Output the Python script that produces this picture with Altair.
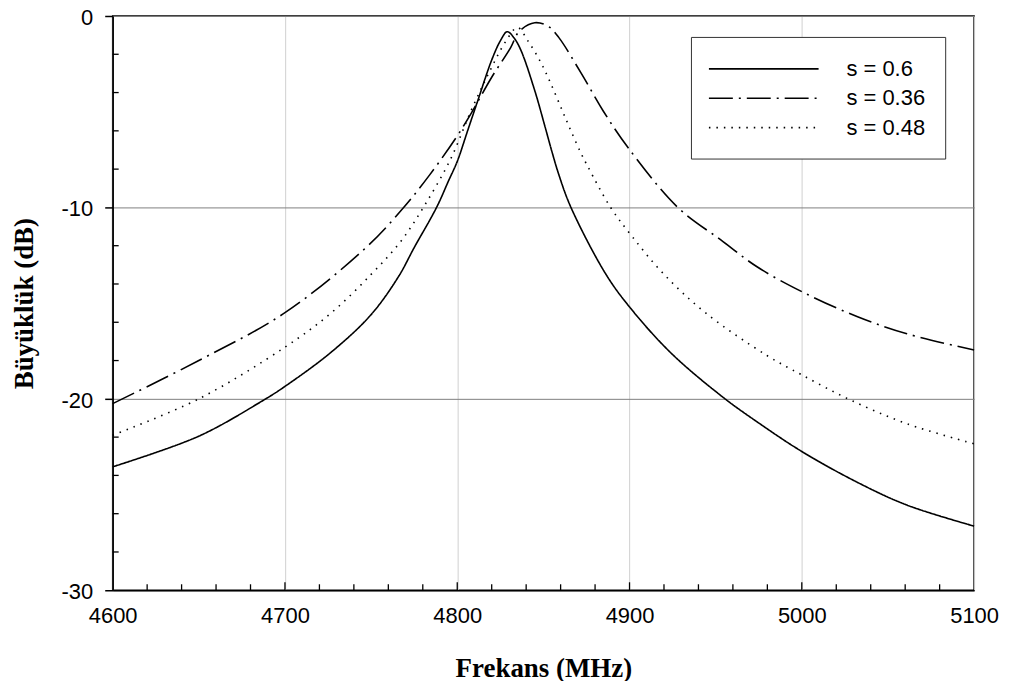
import altair as alt
import pandas as pd

# ---- data ----
series_names = ["s = 0.6", "s = 0.36", "s = 0.48"]

f_06 = [4600, 4650, 4687, 4700, 4727, 4750, 4766, 4775, 4788, 4795, 4800,
        4806, 4812, 4820, 4825, 4829, 4833, 4837, 4845, 4851, 4855, 4859, 4866,
        4886, 4900, 4924, 4954, 4974, 5000, 5032, 5061, 5100]
db_06 = [-23.55, -21.95, -20.1, -19.35, -17.55, -15.6, -13.6, -12.1, -10.0, -8.6, -7.6,
         -6.0, -4.4, -2.3, -1.3, -0.82, -1.15, -1.8, -3.9, -5.8, -7.1, -8.3, -10.0,
         -13.45, -15.2, -17.6, -19.9, -21.2, -22.75, -24.35, -25.55, -26.65]

f_036 = [4600, 4650, 4700, 4747, 4768, 4784, 4799, 4808, 4820, 4831, 4836, 4845,
         4853, 4859, 4872, 4885, 4899, 4928, 4953, 4974, 5000, 5032, 5061, 5100]
db_036 = [-20.25, -18.0, -15.5, -12.1, -10.1, -8.3, -6.4, -5.1, -3.2, -1.65, -0.8, -0.35,
          -0.55, -1.13, -3.0, -5.0, -6.86, -10.0, -11.7, -13.1, -14.4, -15.7, -16.6, -17.45]

f_048 = [4600, 4650, 4700, 4727, 4750, 4767, 4781, 4796, 4808, 4818, 4828, 4835,
         4841, 4848, 4854, 4861, 4866, 4872, 4876, 4889, 4901, 4919, 4944, 4980,
         5000, 5028, 5061, 5100]
db_048 = [-21.9, -20.0, -17.3, -15.5, -13.5, -11.8, -9.9, -7.5, -4.95, -3.04, -1.35, -0.6,
          -1.3, -2.34, -3.47, -4.95, -6.0, -7.2, -7.9, -10.0, -11.46, -13.4, -15.5, -17.75,
          -18.75, -20.05, -21.3, -22.35]

x_major = [4600, 4700, 4800, 4900, 5000, 5100]
x_minor = [v for v in range(4620, 5100, 20) if v % 100 != 0]
x_major_inner = [4700, 4800, 4900, 5000]
y_major = [0, -10, -20, -30]
y_minor = [v for v in range(-28, 0, 2) if v % 10 != 0]

W, H = 864, 576

rows = []
for name, fs, ds in [(series_names[0], f_06, db_06),
                     (series_names[1], f_036, db_036),
                     (series_names[2], f_048, db_048)]:
    for f, d in zip(fs, ds):
        rows.append({"f": f, "db": d, "s": name})
df = pd.DataFrame(rows)

xscale = alt.Scale(domain=[4600, 5100], nice=False, zero=False)
yscale = alt.Scale(domain=[-30, 0], nice=False, zero=False)

lines = alt.Chart(df).mark_line(color="black", strokeWidth=1.6, interpolate="catmull-rom").encode(
    x=alt.X("f:Q", scale=xscale,
            axis=alt.Axis(values=x_major, format="d", grid=True, gridColor="#d0d0d0",
                          gridWidth=1, tickSize=0, domainColor="black", domainWidth=1.5,
                          labelFont="Liberation Sans", labelFontSize=22, labelColor="black",
                          labelPadding=15, labelFlush=False, title="Frekans (MHz)",
                          titleFont="Liberation Serif", titleFontSize=27,
                          titleFontWeight="bold", titleColor="black",
                          titleX=W / 2, titleY=86, titleBaseline="alphabetic")),
    y=alt.Y("db:Q", scale=yscale,
            axis=alt.Axis(values=y_major, grid=True, gridColor="#808080",
                          labelExpr="datum.value == 0 ? '0' : '-' + abs(datum.value)",
                          gridWidth=1, tickSize=8, tickColor="black", tickWidth=1.5,
                          domainColor="black", domainWidth=1.5, labelFlush=False,
                          labelFont="Liberation Sans", labelFontSize=22, labelColor="black",
                          labelPadding=12, labelOffset=1.5, title="Büyüklük (dB)",
                          titleFont="Liberation Serif", titleFontSize=27,
                          titleFontWeight="bold", titleColor="black",
                          titleAngle=270, titleX=-88, titleY=H / 2,
                          titleBaseline="middle", titleAlign="center")),
    strokeDash=alt.StrokeDash(
        "s:N", sort=series_names,
        scale=alt.Scale(domain=series_names, range=[[1, 0], [24, 6, 2, 6], [1.5, 6]]),
        legend=alt.Legend(title=None, orient="none", legendX=580, legendY=21,
                          symbolType="M-1.27,0H8.73", symbolSize=484, symbolStrokeWidth=1.6,
                          symbolStrokeColor="black", labelFont="Liberation Sans",
                          labelFontSize=22, labelColor="black", labelOffset=112,
                          padding=20, strokeColor="#333333", fillColor="white",
                          rowPadding=6.5)),
    detail="s:N",
)

ym = alt.Chart(pd.DataFrame({"v": y_minor})).mark_rule(color="black", strokeWidth=1.3).encode(
    y=alt.Y("v:Q", scale=yscale, axis=None), x=alt.value(0), x2=alt.value(6))
xm = alt.Chart(pd.DataFrame({"v": x_minor})).mark_rule(color="black", strokeWidth=1.3).encode(
    x=alt.X("v:Q", scale=xscale, axis=None), y=alt.value(H), y2=alt.value(H - 6))
xM = alt.Chart(pd.DataFrame({"v": x_major_inner})).mark_rule(color="black", strokeWidth=1.3).encode(
    x=alt.X("v:Q", scale=xscale, axis=None), y=alt.value(H), y2=alt.value(H - 8))

chart = alt.layer(lines, ym, xm, xM).resolve_axis(
    x="independent", y="independent"
).properties(
    width=W, height=H,
    autosize=alt.AutoSizeParams(type="none"),
    padding={"left": 105, "top": 7, "right": 30, "bottom": 90},
).configure(
    background="white",
    view=alt.ViewConfig(stroke="black", strokeWidth=1.5),
)

chart.save("out.html", embed_options={"renderer": "svg", "actions": False})
